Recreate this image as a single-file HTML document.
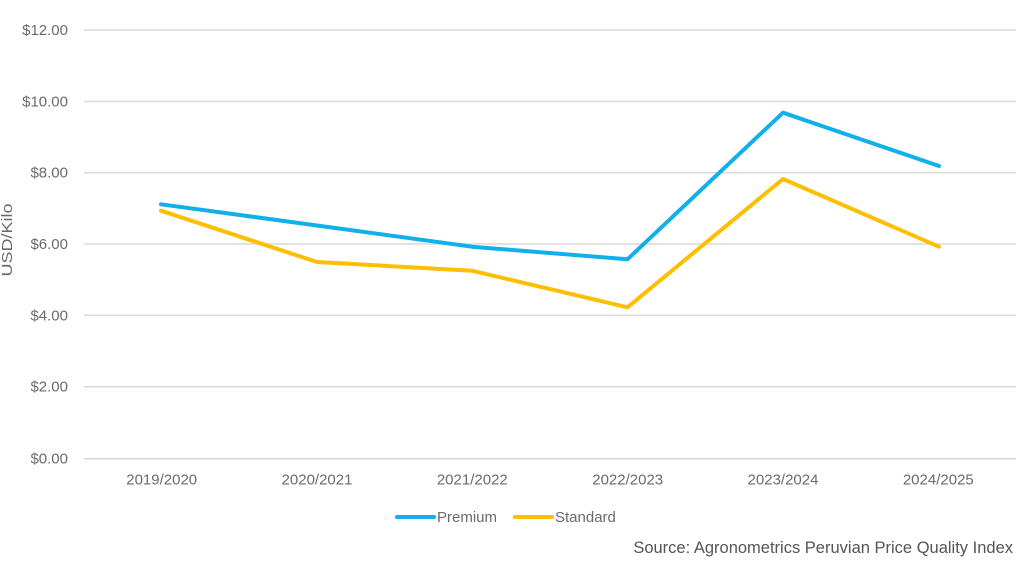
<!DOCTYPE html>
<html>
<head>
<meta charset="utf-8">
<style>
  html,body{margin:0;padding:0;background:#fff;}
  svg{display:block;}
  text{font-family:"Liberation Sans",Arial,sans-serif;}
</style>
</head>
<body>
<svg width="1024" height="561" viewBox="0 0 1024 561" xmlns="http://www.w3.org/2000/svg">
  <rect width="1024" height="561" fill="#fff"/>
  <!-- gridlines -->
  <g stroke="#d9d9d9" stroke-width="1.5">
    <line x1="84" y1="30" x2="1016" y2="30"/>
    <line x1="84" y1="101.5" x2="1016" y2="101.5"/>
    <line x1="84" y1="172.7" x2="1016" y2="172.7"/>
    <line x1="84" y1="244" x2="1016" y2="244"/>
    <line x1="84" y1="315.3" x2="1016" y2="315.3"/>
    <line x1="84" y1="386.7" x2="1016" y2="386.7"/>
    <line x1="84" y1="458.7" x2="1016" y2="458.7" stroke="#d5d8dc"/>
  </g>
  <!-- y labels -->
  <g fill="#6b6b6b" font-size="15" text-anchor="end">
    <text x="68" y="35">$12.00</text>
    <text x="68" y="106.5">$10.00</text>
    <text x="68" y="177.7">$8.00</text>
    <text x="68" y="249">$6.00</text>
    <text x="68" y="320.3">$4.00</text>
    <text x="68" y="391.7">$2.00</text>
    <text x="68" y="463.7">$0.00</text>
  </g>
  <text transform="translate(12,240) rotate(-90)" text-anchor="middle" fill="#6b6b6b" font-size="15" textLength="73" lengthAdjust="spacingAndGlyphs">USD/Kilo</text>
  <!-- x labels -->
  <g fill="#6b6b6b" font-size="15" text-anchor="middle">
    <text x="161.7" y="484.5">2019/2020</text>
    <text x="317" y="484.5">2020/2021</text>
    <text x="472.3" y="484.5">2021/2022</text>
    <text x="627.7" y="484.5">2022/2023</text>
    <text x="783" y="484.5">2023/2024</text>
    <text x="938.3" y="484.5">2024/2025</text>
  </g>
  <!-- series -->
  <polyline fill="none" stroke="#ffbf00" stroke-width="4" stroke-linejoin="round" stroke-linecap="round"
    points="161,210.7 317,262 472,270.7 627.5,307.3 783,179 939,246.7"/>
  <polyline fill="none" stroke="#12b0ea" stroke-width="4" stroke-linejoin="round" stroke-linecap="round"
    points="161,204.3 317,225.5 472,246.7 627.5,259.3 783,112.7 939,166"/>
  <!-- legend -->
  <line x1="397" y1="517" x2="434" y2="517" stroke="#12b0ea" stroke-width="4" stroke-linecap="round"/>
  <text x="437" y="522" fill="#6b6b6b" font-size="15">Premium</text>
  <line x1="515" y1="517" x2="552" y2="517" stroke="#ffbf00" stroke-width="4" stroke-linecap="round"/>
  <text x="555" y="522" fill="#6b6b6b" font-size="15">Standard</text>
  <!-- source -->
  <text x="1013" y="553" fill="#555" font-size="16.5" text-anchor="end">Source: Agronometrics Peruvian Price Quality Index</text>
</svg>
</body>
</html>
